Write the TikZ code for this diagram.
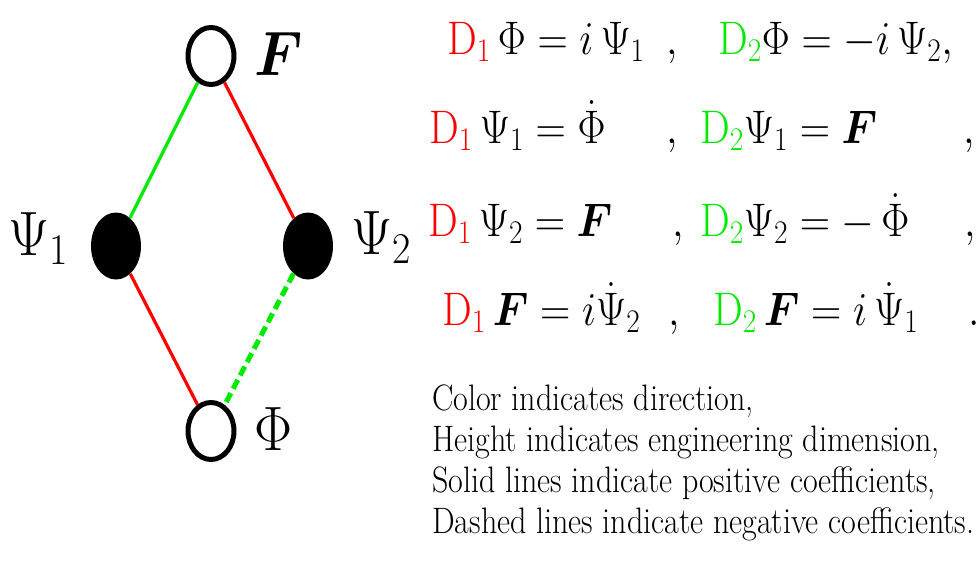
\RequirePackage{fix-cm}
\documentclass[tikz,border=0pt]{standalone}
\usepackage{amsmath}
\usepackage{graphicx}
\usetikzlibrary{shapes.geometric}
\definecolor{dred}{RGB}{255,0,0}
\definecolor{dgreen}{RGB}{0,235,0}
\newcommand{\vst}[2]{\scalebox{1}[#1]{#2}}
\newcommand{\Da}{\textcolor{dred}{\mathrm{D}_1}}
\newcommand{\Db}{\textcolor{dgreen}{\mathrm{D}_2}}
\newcommand{\bF}{\boldsymbol{F}}
\begin{document}
\begin{tikzpicture}[x=1pt,y=-1pt,
  opennode/.style={ellipse, draw=black, line width=5pt, fill=white, minimum width=46pt, minimum height=57pt, inner sep=0pt},
  fullnode/.style={ellipse, fill=black, minimum width=50pt, minimum height=67pt, inner sep=0pt},
  lbl/.style={inner sep=0pt, anchor=base west, font=\fontsize{57}{64}\selectfont},
  eqn/.style={inner sep=0pt, anchor=base west, font=\fontsize{42}{50}\selectfont},
  note/.style={inner sep=0pt, anchor=base west, font=\fontsize{32}{36}\selectfont},
  edge/.style={line width=3.2pt},
  dashedge/.style={line width=5pt, dash pattern=on 10pt off 5pt}
]
\useasboundingbox (0,0) rectangle (979,574);
% nodes of the diagram
\node[opennode] (F) at (211,56) {};
\node[fullnode] (P1) at (116,246) {};
\node[fullnode] (P2) at (308,246) {};
\node[opennode] (Phi) at (211,431) {};
% connectors
\draw[edge, dgreen] (F) -- (P1);
\draw[edge, dred] (F) -- (P2);
\draw[edge, dred] (P1) -- (Phi);
\draw[dashedge, dgreen] (P2) -- (Phi);
% labels
\node[lbl] (lF) at (254,75) {\vst{1.1}{$\bF$}};
\node[lbl] (lP1) at (8,255) {\vst{1.1}{$\Psi_1$}};
\node[lbl] (lP2) at (351,254) {\vst{1.1}{$\Psi_2$}};
\node[lbl] (lPhi) at (254,450) {\vst{1.1}{$\Phi$}};
% equations
\node[eqn] (e1a) at (447,54) {\vst{1.12}{$\Da\,\Phi = i\,\Psi_1$}};
\node[eqn] (c1a) at (666,54) {\vst{1.12}{$,$}};
\node[eqn] (e1b) at (718,54) {\vst{1.12}{$\Db\Phi = -i\,\Psi_2,$}};
\node[eqn] (e2a) at (429,143) {\vst{1.12}{$\Da\,\Psi_1 = \dot{\Phi}$}};
\node[eqn] (c2a) at (666,143) {\vst{1.12}{$,$}};
\node[eqn] (e2b) at (700,143) {\vst{1.12}{$\Db\Psi_1 = \bF$}};
\node[eqn] (c2b) at (963,143) {\vst{1.12}{$,$}};
\node[eqn] (e3a) at (428,236) {\vst{1.12}{$\Da\,\Psi_2 = \bF$}};
\node[eqn] (c3a) at (672,236) {\vst{1.12}{$,$}};
\node[eqn] (e3b) at (700,236) {\vst{1.12}{$\Db\Psi_2 = -\,\dot{\Phi}$}};
\node[eqn] (c3b) at (964,236) {\vst{1.12}{$,$}};
\node[eqn] (e4a) at (442,325) {\vst{1.12}{$\Da\,\bF = i\dot{\Psi}_2$}};
\node[eqn] (c4a) at (668,325) {\vst{1.12}{$,$}};
\node[eqn] (e4b) at (713,325) {\vst{1.12}{$\Db\,\bF = i\,\dot{\Psi}_1$}};
\node[eqn] (c4b) at (968,325) {\vst{1.12}{$.$}};
% notes
\node[note] (n1) at (432,410) {\vst{1.15}{Color indicates direction,}};
\node[note] (n2) at (432,451) {\vst{1.15}{Height indicates engineering dimension,}};
\node[note] (n3) at (432,492) {\vst{1.15}{Solid lines indicate positive coefficients,}};
\node[note] (n4) at (432,533) {\vst{1.15}{Dashed lines indicate negative coefficients.}};
\end{tikzpicture}
\end{document}
